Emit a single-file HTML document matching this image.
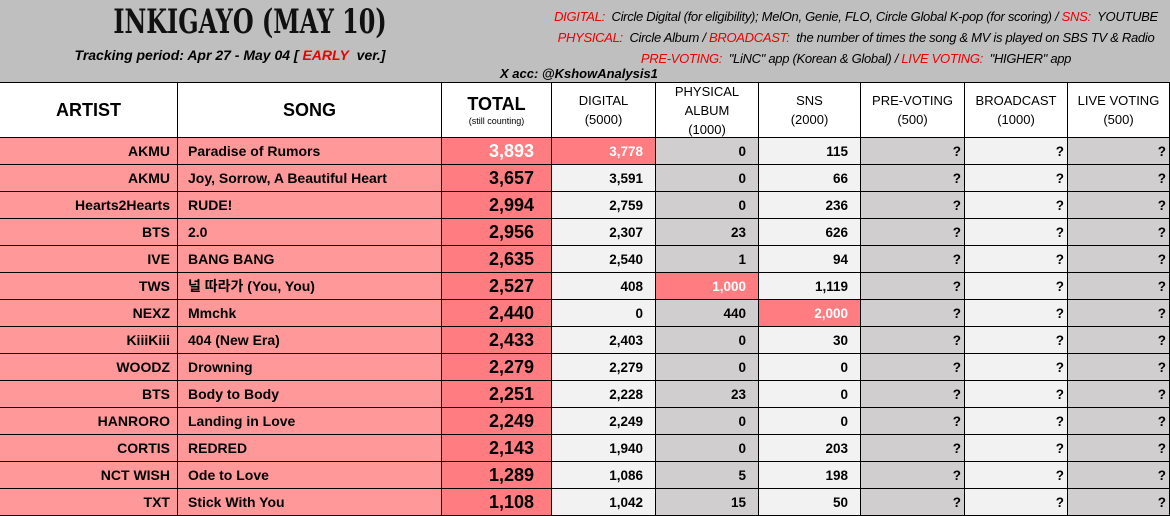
<!DOCTYPE html>
<html><head><meta charset="utf-8"><style>
*{margin:0;padding:0;box-sizing:border-box}
body{width:1170px;height:514px;overflow:hidden;background:#bfbfbf;font-family:"Liberation Sans","Noto Sans CJK KR",sans-serif;position:relative}
.a{position:absolute}
.c{position:absolute;border-right:1px solid #000;border-bottom:1px solid #000;font-weight:bold;display:flex;align-items:center;white-space:nowrap;overflow:hidden}
.r{color:#e00}
.h{justify-content:center;text-align:center;background:#fff;flex-direction:column;font-size:13px;line-height:19px;font-weight:normal}
</style></head><body>
<div class="a" style="left:0;top:0;width:1170px;height:82px">
<div class="a" style="left:60px;top:2px;width:380px;text-align:center;white-space:nowrap;font-family:'DejaVu Serif Condensed','Liberation Serif',serif;font-weight:bold;font-size:34px;color:#111;transform:scaleX(0.78);transform-origin:center">INKIGAYO (MAY 10)</div>
<div class="a" style="left:20px;top:47px;width:420px;text-align:center;white-space:nowrap;font-style:italic;font-weight:bold;font-size:14px">Tracking period: Apr 27 - May 04 [ <span class="r">EARLY</span>&nbsp; ver.]</div>
<div class="a" style="left:500px;top:66px;font-style:italic;font-weight:bold;font-size:13px">X acc: @KshowAnalysis1</div>
<div class="a" style="left:545px;top:6px;width:622px;font-style:italic;font-size:13px;line-height:22px;letter-spacing:-0.3px;white-space:nowrap">
<div style="text-align:center"><span class="r">DIGITAL:</span>&nbsp; Circle Digital (for eligibility); MelOn, Genie, FLO, Circle Global K-pop (for scoring) / <span class="r">SNS:</span>&nbsp; YOUTUBE</div>
<div style="text-align:center;margin-top:-1px"><span class="r">PHYSICAL:</span>&nbsp; Circle Album / <span class="r">BROADCAST:</span>&nbsp; the number of times the song &amp; MV is played on SBS TV &amp; Radio</div>
<div style="text-align:center;margin-top:-1px"><span class="r">PRE-VOTING:</span>&nbsp; "LiNC" app (Korean &amp; Global) / <span class="r">LIVE VOTING:</span>&nbsp; "HIGHER" app</div>
</div>
</div>
<div class="a" id="tbl" style="left:0;top:82px;width:1170px;height:432px;border-top:1px solid #000"></div>
<script>
const artists=["AKMU","AKMU","Hearts2Hearts","BTS","IVE","TWS","NEXZ","KiiiKiii","WOODZ","BTS","HANRORO","CORTIS","NCT WISH","TXT"];
const songs=["Paradise of Rumors","Joy, Sorrow, A Beautiful Heart","RUDE!","2.0","BANG BANG","널 따라가 (You, You)","Mmchk","404 (New Era)","Drowning","Body to Body","Landing in Love","REDRED","Ode to Love","Stick With You"];
const totals=[3893,3657,2994,2956,2635,2527,2440,2433,2279,2251,2249,2143,1289,1108];
const digital=[3778,3591,2759,2307,2540,408,0,2403,2279,2228,2249,1940,1086,1042];
const physical=[0,0,0,23,1,1000,440,0,0,23,0,0,5,15];
const sns=[115,66,236,626,94,1119,2000,30,0,0,0,203,198,50];
const cols=[0,178,442,552,656,759,861,965,1068,1170];
const T=document.getElementById('tbl');
function cell(x0,x1,y,h,txt,bg,name,extra){const d=document.createElement('div');d.className='c'+(extra||'');


d.style.left=x0+'px';d.style.top=y+'px';d.style.width=(x1-x0)+'px';d.style.height=h+'px';if(bg)d.style.background=bg;d.innerHTML=txt;T.appendChild(d);return d;}
const heads=[["<span style='font-size:18px'>ARTIST</span>"],["<span style='font-size:18px'>SONG</span>"],["<span style='font-size:18px;font-weight:bold;line-height:22px'>TOTAL</span><span style='font-size:9px;line-height:12px;font-weight:normal'>(still counting)</span>"],["DIGITAL<br>(5000)"],["PHYSICAL<br>ALBUM<br>(1000)"],["SNS<br>(2000)"],["PRE-VOTING<br>(500)"],["BROADCAST<br>(1000)"],["LIVE VOTING<br>(500)"]];
const hn=["artist","song","total","digital","physical","sns","pre-voting","broadcast","live-voting"];
heads.forEach((h,i)=>{const d=cell(cols[i],cols[i+1],0,55,h[0],'#fff','header-'+hn[i],' h');if(i<3){d.style.fontWeight='bold';}});
const fmt=v=>v.toLocaleString('en-US');
const maxD=Math.max(...digital),maxP=Math.max(...physical),maxS=Math.max(...sns),maxT=Math.max(...totals);
const hi='#ff7c80',lt='#f2f2f2',gr='#d0cece';
for(let i=0;i<artists.length;i++){const y=55+i*27,h=27;
let d=cell(cols[0],cols[1],y,h,artists[i],'#ff9999','artist-cell');d.style.justifyContent='flex-end';d.style.paddingRight='7px';d.style.fontSize='14px';
d=cell(cols[1],cols[2],y,h,songs[i],'#ff9999','song-cell');d.style.paddingLeft='10px';d.style.fontSize='14px';
d=cell(cols[2],cols[3],y,h,fmt(totals[i]),hi,'total-cell');d.style.justifyContent='flex-end';d.style.paddingRight='17px';d.style.fontSize='18px';if(totals[i]===maxT)d.style.color='#fff';
const vals=[[digital[i],maxD,lt,'digital-cell'],[physical[i],maxP,gr,'physical-cell'],[sns[i],maxS,lt,'sns-cell']];
vals.forEach((v,k)=>{d=cell(cols[3+k],cols[4+k],y,h,fmt(v[0]),v[0]===v[1]?hi:v[2],v[3]);d.style.justifyContent='flex-end';d.style.paddingRight='12px';d.style.fontSize='13.5px';if(v[0]===v[1])d.style.color='#fff';});
[gr,lt,gr].forEach((bg,k)=>{d=cell(cols[6+k],cols[7+k],y,h,'?',bg,['pre-voting-cell','broadcast-cell','live-voting-cell'][k]);d.style.justifyContent='flex-end';d.style.paddingRight='3px';d.style.fontSize='13.5px';});
}
</script>
</body></html>
